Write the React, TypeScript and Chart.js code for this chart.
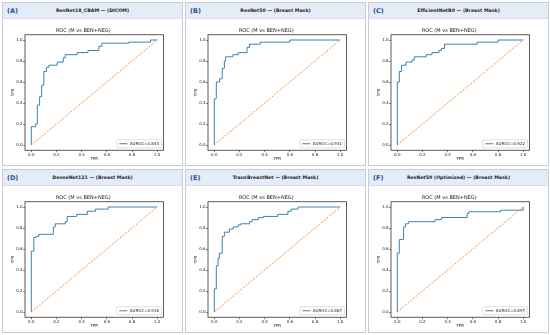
import React, { useEffect, useRef } from 'react';
import { Chart, registerables } from 'chart.js';

Chart.register(...registerables);

// ---------- data ----------
const PANEL_LABELS = ['(A)', '(B)', '(C)', '(D)', '(E)', '(F)'];
const MODEL_TITLES = [
  'ResNet18_CBAM — (DICOM)',
  'ResNet50 — (Breast Mask)',
  'EfficientNetB0 — (Breast Mask)',
  'DenseNet121 — (Breast Mask)',
  'TransBreastNet — (Breast Mask)',
  'ResNet50 (Optimized) — (Breast Mask)',
];
const AUROC = [0.844, 0.931, 0.922, 0.916, 0.887, 0.897];
const PLOT_TITLE = 'ROC (M vs BEN+NEG)';
const X_LABEL = 'FPR';
const Y_LABEL = 'TPR';
const AXIS_TICKS = [0, 0.2, 0.4, 0.6, 0.8, 1.0];
const CHANCE_X = [0, 1];
const CHANCE_Y = [0, 1];

// ROC step points (horizontal then vertical to each point)
const FPR_A = [0, 0, 0.034, 0.048, 0.066, 0.082, 0.1, 0.12, 0.14, 0.206, 0.254, 0.27, 0.365, 0.45, 0.537, 0.56, 0.775, 0.947, 1.0];
const TPR_A = [0, 0.175, 0.2, 0.38, 0.46, 0.57, 0.7, 0.74, 0.76, 0.79, 0.83, 0.86, 0.88, 0.9, 0.94, 0.97, 0.98, 1.0, 1.0];

const FPR_B = [0, 0, 0.016, 0.042, 0.063, 0.08, 0.09, 0.148, 0.19, 0.26, 0.28, 0.365, 0.6, 1.0];
const TPR_B = [0, 0.44, 0.6, 0.63, 0.73, 0.8, 0.84, 0.86, 0.88, 0.93, 0.96, 0.98, 1.0, 1.0];

const FPR_C = [0, 0, 0.016, 0.034, 0.07, 0.117, 0.135, 0.23, 0.275, 0.33, 0.35, 0.375, 0.635, 0.8, 1.0];
const TPR_C = [0, 0.6, 0.7, 0.76, 0.79, 0.81, 0.84, 0.86, 0.88, 0.9, 0.92, 0.96, 0.98, 1.0, 1.0];

const FPR_D = [0, 0, 0.02, 0.04, 0.06, 0.175, 0.19, 0.27, 0.285, 0.36, 0.445, 0.51, 0.61, 1.0];
const TPR_D = [0, 0.58, 0.71, 0.72, 0.74, 0.81, 0.84, 0.86, 0.91, 0.93, 0.96, 0.98, 1.0, 1.0];

const FPR_E = [0, 0, 0.016, 0.03, 0.04, 0.063, 0.08, 0.12, 0.15, 0.19, 0.21, 0.28, 0.3, 0.35, 0.39, 0.505, 0.585, 0.61, 0.665, 1.0];
const TPR_E = [0, 0.22, 0.44, 0.51, 0.56, 0.72, 0.76, 0.79, 0.81, 0.83, 0.84, 0.86, 0.88, 0.9, 0.91, 0.93, 0.96, 0.98, 1.0, 1.0];

const FPR_F = [0, 0, 0.016, 0.05, 0.064, 0.09, 0.3, 0.35, 0.555, 0.57, 0.82, 1.0, 1.0];
const TPR_F = [0, 0.56, 0.69, 0.81, 0.84, 0.86, 0.88, 0.9, 0.94, 0.955, 0.97, 0.97, 1.0];

const ROC_FPR = [FPR_A, FPR_B, FPR_C, FPR_D, FPR_E, FPR_F];
const ROC_TPR = [TPR_A, TPR_B, TPR_C, TPR_D, TPR_E, TPR_F];

// ---------- styling / layout ----------
const ROC_COLOR = '#3a83ad';
const CHANCE_COLOR = '#ff7f0e';
const FONT = 'DejaVu Sans';
const COLS = [2, 185, 368];
const ROWS = [2, 169];
const PANEL_W = 181;
const PANEL_H = 164;
const HEADER_H = 16;
const CANVAS_W = PANEL_W - 2;
const CANVAS_H = PANEL_H - 2 - HEADER_H;

const framePlugin = {
  id: 'axesFrame',
  afterDatasetsDraw(chart: any) {
    const { ctx, chartArea: a } = chart;
    ctx.save();
    ctx.strokeStyle = '#333333';
    ctx.lineWidth = 0.8;
    ctx.strokeRect(a.left, a.top, a.right - a.left, a.bottom - a.top);
    ctx.restore();
  },
};

const insetLegendPlugin = {
  id: 'insetLegend',
  afterDraw(chart: any) {
    const ds = chart.data.datasets.find((d: any) => d.label);
    if (!ds) return;
    const { ctx, chartArea: a } = chart;
    ctx.save();
    ctx.font = `4px "${FONT}"`;
    const tw = ctx.measureText(ds.label).width;
    const padX = 2.5, lineLen = 8, gap = 2.5, h = 8;
    const w = padX + lineLen + gap + tw + padX;
    const x = a.right - 2 - w;
    const y = a.bottom - 2.5 - h;
    ctx.fillStyle = 'rgba(255,255,255,0.85)';
    ctx.strokeStyle = '#cccccc';
    ctx.lineWidth = 0.6;
    ctx.beginPath();
    if (ctx.roundRect) ctx.roundRect(x, y, w, h, 1);
    else ctx.rect(x, y, w, h);
    ctx.fill();
    ctx.stroke();
    ctx.strokeStyle = ds.borderColor;
    ctx.lineWidth = 1;
    ctx.beginPath();
    ctx.moveTo(x + padX, y + h / 2);
    ctx.lineTo(x + padX + lineLen, y + h / 2);
    ctx.stroke();
    ctx.fillStyle = '#222222';
    ctx.textBaseline = 'middle';
    ctx.textAlign = 'left';
    ctx.fillText(ds.label, x + padX + lineLen + gap, y + h / 2 + 0.2);
    ctx.restore();
  },
};

function axis(isX: boolean) {
  return {
    type: 'linear' as const,
    min: -0.05,
    max: 1.05,
    afterBuildTicks: (s: any) => {
      s.ticks = AXIS_TICKS.map((v) => ({ value: v }));
    },
    afterFit: (s: any) => {
      if (isX) s.height = 14.75;
      else s.width = 22;
    },
    ticks: {
      autoSkip: false,
      maxRotation: 0,
      padding: 0.5,
      color: '#222222',
      font: { family: FONT, size: 4 },
      callback: (v: any) => Number(v).toFixed(1),
    },
    grid: {
      display: true,
      drawOnChartArea: false,
      drawTicks: true,
      tickLength: 2,
      color: '#333333',
      lineWidth: 0.6,
    },
    border: { display: false },
    title: {
      display: true,
      text: isX ? X_LABEL : Y_LABEL,
      color: '#222222',
      font: { family: FONT, size: 4 },
      padding: isX ? { top: 0, bottom: 3.3 } : { top: 7.3, bottom: 0 },
    },
  };
}

function RocPanel({ idx }: { idx: number }) {
  const ref = useRef<HTMLCanvasElement>(null);
  useEffect(() => {
    const fpr = ROC_FPR[idx];
    const tpr = ROC_TPR[idx];
    const chart = new Chart(ref.current as HTMLCanvasElement, {
      type: 'scatter',
      data: {
        datasets: [
          {
            data: CHANCE_X.map((x, i) => ({ x, y: CHANCE_Y[i] })),
            showLine: true,
            borderColor: CHANCE_COLOR,
            borderWidth: 0.9,
            borderDash: [2, 1.4],
            pointRadius: 0,
            fill: false,
          },
          {
            label: `AUROC=${AUROC[idx].toFixed(3)}`,
            data: fpr.map((x, i) => ({ x, y: tpr[i] })),
            showLine: true,
            stepped: 'before',
            borderColor: ROC_COLOR,
            borderWidth: 1,
            pointRadius: 0,
            fill: false,
          },
        ],
      } as any,
      options: {
        responsive: false,
        animation: false,
        events: [],
        layout: { padding: { left: 0, right: 18.5, top: 0, bottom: 0 } },
        scales: { x: axis(true), y: axis(false) } as any,
        plugins: {
          legend: { display: false },
          tooltip: { enabled: false },
          title: {
            display: true,
            text: PLOT_TITLE,
            color: '#222222',
            font: { family: FONT, size: 5, weight: 'normal' as any },
            padding: { top: 8.5, bottom: 1.25 },
          },
        },
      },
      plugins: [framePlugin, insetLegendPlugin],
    });
    return () => chart.destroy();
  }, [idx]);

  return (
    <div
      style={{
        position: 'absolute',
        left: COLS[idx % 3],
        top: ROWS[Math.floor(idx / 3)],
        width: PANEL_W,
        height: PANEL_H,
        boxSizing: 'border-box',
        border: '1px solid #c8cdd5',
        background: '#ffffff',
      }}
    >
      <div
        style={{
          position: 'absolute',
          left: 0,
          top: 0,
          width: '100%',
          height: HEADER_H,
          boxSizing: 'border-box',
          background: '#e4ecf8',
          borderBottom: '1px solid #d4deec',
          fontFamily: FONT,
        }}
      >
        <span
          style={{
            position: 'absolute',
            left: 4,
            top: 0,
            lineHeight: `${HEADER_H}px`,
            fontSize: 6.5,
            fontWeight: 700,
            color: '#2c4f8f',
            whiteSpace: 'nowrap',
          }}
        >
          {PANEL_LABELS[idx]}
        </span>
        <span
          style={{
            position: 'absolute',
            left: 0,
            right: 0,
            top: 0,
            textAlign: 'center',
            lineHeight: `${HEADER_H}px`,
            fontSize: 4.7,
            fontWeight: 700,
            color: '#1c1f2a',
            whiteSpace: 'nowrap',
          }}
        >
          {MODEL_TITLES[idx]}
        </span>
      </div>
      <div style={{ position: 'absolute', left: 0, top: HEADER_H, width: CANVAS_W, height: CANVAS_H }}>
        <canvas ref={ref} width={CANVAS_W} height={CANVAS_H} style={{ display: 'block', width: CANVAS_W, height: CANVAS_H }} />
      </div>
    </div>
  );
}

export default function App() {
  return (
    <div style={{ position: 'absolute', left: 0, top: 0, width: 550, height: 335, background: '#ffffff' }}>
      {MODEL_TITLES.map((_, i) => (
        <RocPanel key={i} idx={i} />
      ))}
    </div>
  );
}
